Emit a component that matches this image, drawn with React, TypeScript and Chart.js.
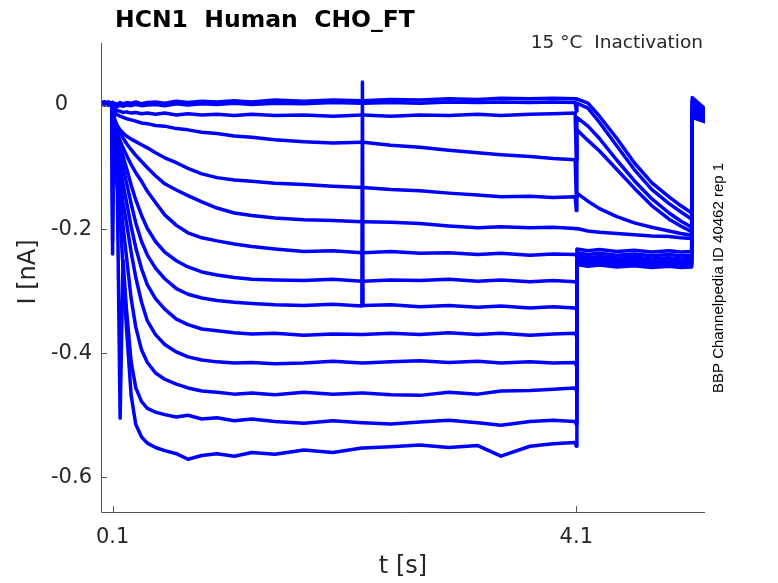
import { useEffect, useRef } from "react"
import Chart from "chart.js/auto"

// sample times [s], shared by all sweeps
const tGrid = [
    0, 0.03, 0.06, 0.095, 0.1, 0.105, 0.12, 0.14, 0.165, 0.19,
    0.22, 0.26, 0.3, 0.35, 0.4, 0.47, 0.55, 0.65, 0.75, 0.87,
    1.0, 1.15, 1.3, 1.5, 1.75, 2.0, 2.25, 2.255, 2.26, 2.5,
    2.75, 3.0, 3.25, 3.45, 3.7, 3.9, 4.09, 4.1, 4.105, 4.2,
    4.3, 4.45, 4.6, 4.75, 4.9, 5.0, 5.095, 5.1, 5.21,
]

// current [nA] per sweep
const sweep01 = [
    0.004, 0.002, 0.005, 0.003, 0.0, 0.002, 0.003, 0.001, 0.004, 0.002,
    0.004, 0.003, 0.005, 0.002, 0.004, 0.005, 0.003, 0.006, 0.004, 0.006,
    0.005, 0.007, 0.005, 0.008, 0.006, 0.008, 0.007, 0.007, 0.007, 0.009,
    0.008, 0.01, 0.009, 0.011, 0.01, 0.011, 0.01, 0.009, 0.01, 0.003,
    -0.018, -0.054, -0.093, -0.125, -0.148, -0.162, -0.174, 0.012, -0.006,
]
const sweep02 = [
    0.001, 0.004, 0.0, 0.002, -0.01, -0.002, -0.001, -0.003, 0.0, -0.002,
    0.0, -0.001, 0.001, -0.001, 0.0, 0.001, -0.001, 0.002, 0.0, 0.002,
    0.001, 0.003, 0.001, 0.003, 0.002, 0.004, 0.003, 0.003, 0.003, 0.004,
    0.003, 0.005, 0.004, 0.005, 0.004, 0.005, 0.004, -0.01, 0.003, -0.005,
    -0.028, -0.066, -0.104, -0.136, -0.159, -0.172, -0.184, 0.008, -0.01,
]
const sweep03 = [
    0.003, 0.0, 0.003, 0.001, -0.02, -0.006, -0.007, -0.009, -0.01, -0.012,
    -0.011, -0.013, -0.012, -0.014, -0.013, -0.015, -0.013, -0.016, -0.014, -0.016,
    -0.015, -0.017, -0.015, -0.017, -0.016, -0.018, -0.016, -0.016, -0.016, -0.018,
    -0.016, -0.017, -0.015, -0.017, -0.015, -0.014, -0.013, -0.09, -0.02, -0.034,
    -0.054, -0.089, -0.122, -0.151, -0.174, -0.187, -0.197, 0.005, -0.014,
]
const sweep04 = [
    0.002, 0.005, 0.001, 0.003, -0.03, -0.008, -0.012, -0.016, -0.018, -0.02,
    -0.022, -0.024, -0.026, -0.029, -0.03, -0.033, -0.034, -0.038, -0.04, -0.044,
    -0.046, -0.05, -0.052, -0.056, -0.059, -0.061, -0.06, -0.06, -0.06, -0.065,
    -0.068, -0.073, -0.077, -0.08, -0.083, -0.086, -0.088, -0.15, -0.04, -0.057,
    -0.074, -0.104, -0.134, -0.162, -0.184, -0.195, -0.204, -0.002, -0.018,
]
const sweep05 = [
    0.004, 0.001, 0.004, 0.002, -0.04, -0.012, -0.024, -0.033, -0.04, -0.045,
    -0.05, -0.055, -0.059, -0.064, -0.069, -0.077, -0.085, -0.093, -0.102, -0.111,
    -0.117, -0.121, -0.123, -0.126, -0.128, -0.131, -0.133, -0.133, -0.133, -0.136,
    -0.138, -0.142, -0.145, -0.148, -0.147, -0.149, -0.148, -0.17, -0.142, -0.155,
    -0.167, -0.18, -0.19, -0.197, -0.203, -0.207, -0.21, -0.006, -0.02,
]
const sweep06 = [
    0.003, 0.005, 0.002, 0.004, -0.05, -0.014, -0.026, -0.037, -0.045, -0.053,
    -0.062, -0.072, -0.081, -0.091, -0.101, -0.114, -0.127, -0.137, -0.146, -0.156,
    -0.166, -0.174, -0.178, -0.182, -0.185, -0.186, -0.188, -0.188, -0.188, -0.189,
    -0.191, -0.195, -0.198, -0.196, -0.198, -0.197, -0.199, -0.2, -0.199, -0.203,
    -0.205, -0.207, -0.209, -0.211, -0.212, -0.214, -0.215, -0.008, -0.021,
]
const sweep07 = [
    0.002, 0.0, 0.004, 0.002, -0.06, -0.016, -0.031, -0.045, -0.058, -0.069,
    -0.081, -0.096, -0.109, -0.123, -0.139, -0.157, -0.177, -0.194, -0.206, -0.214,
    -0.219, -0.224, -0.228, -0.232, -0.236, -0.235, -0.238, -0.238, -0.238, -0.236,
    -0.239, -0.238, -0.241, -0.239, -0.242, -0.24, -0.241, -0.243, -0.232, -0.235,
    -0.233, -0.236, -0.234, -0.237, -0.235, -0.237, -0.236, -0.01, -0.022,
]
const sweep08 = [
    0.004, 0.002, 0.0, 0.003, -0.08, -0.018, -0.034, -0.05, -0.067, -0.083,
    -0.102, -0.129, -0.153, -0.178, -0.199, -0.22, -0.237, -0.251, -0.261, -0.269,
    -0.274, -0.278, -0.281, -0.282, -0.283, -0.281, -0.284, -0.284, -0.284, -0.282,
    -0.283, -0.281, -0.284, -0.282, -0.285, -0.283, -0.285, -0.287, -0.238, -0.241,
    -0.239, -0.242, -0.24, -0.243, -0.241, -0.243, -0.242, -0.012, -0.023,
]
const sweep09 = [
    0.001, 0.004, 0.002, 0.0, -0.1, -0.02, -0.038, -0.058, -0.08, -0.101,
    -0.125, -0.159, -0.19, -0.22, -0.242, -0.263, -0.28, -0.296, -0.305, -0.311,
    -0.315, -0.318, -0.32, -0.322, -0.323, -0.321, -0.324, 0.037, -0.323, -0.322,
    -0.325, -0.323, -0.326, -0.324, -0.327, -0.325, -0.327, -0.33, -0.243, -0.246,
    -0.244, -0.247, -0.245, -0.248, -0.246, -0.248, -0.247, -0.013, -0.024,
]
const sweep10 = [
    0.003, 0.001, 0.005, 0.002, -0.13, -0.022, -0.045, -0.07, -0.1, -0.127,
    -0.156, -0.196, -0.23, -0.264, -0.29, -0.312, -0.329, -0.345, -0.354, -0.361,
    -0.364, -0.367, -0.369, -0.368, -0.371, -0.369, -0.37, -0.37, -0.37, -0.368,
    -0.37, -0.367, -0.37, -0.368, -0.371, -0.369, -0.368, -0.372, -0.246, -0.249,
    -0.247, -0.25, -0.248, -0.251, -0.249, -0.251, -0.25, -0.014, -0.024,
]
const sweep11 = [
    0.005, 0.002, 0.003, 0.001, -0.16, -0.025, -0.055, -0.086, -0.122, -0.157,
    -0.19, -0.237, -0.278, -0.318, -0.348, -0.37, -0.386, -0.398, -0.406, -0.411,
    -0.414, -0.416, -0.415, -0.417, -0.416, -0.413, -0.416, -0.416, -0.416, -0.414,
    -0.412, -0.415, -0.413, -0.416, -0.414, -0.416, -0.415, -0.42, -0.249, -0.252,
    -0.25, -0.253, -0.251, -0.254, -0.252, -0.254, -0.253, -0.015, -0.025,
]
const sweep12 = [
    0.002, 0.005, 0.001, 0.004, -0.19, -0.03, -0.068, -0.106, -0.152, -0.195,
    -0.245, -0.312, -0.358, -0.395, -0.415, -0.432, -0.442, -0.45, -0.456, -0.461,
    -0.463, -0.466, -0.464, -0.467, -0.463, -0.466, -0.464, -0.464, -0.464, -0.467,
    -0.468, -0.463, -0.466, -0.461, -0.46, -0.458, -0.456, -0.46, -0.251, -0.254,
    -0.252, -0.255, -0.253, -0.256, -0.254, -0.256, -0.255, -0.016, -0.025,
]
const sweep13 = [
    0.004, 0.001, 0.003, 0.002, -0.22, -0.035, -0.08, -0.125, -0.505, -0.25,
    -0.33, -0.414, -0.456, -0.478, -0.489, -0.495, -0.499, -0.503, -0.5, -0.506,
    -0.504, -0.509, -0.506, -0.51, -0.513, -0.509, -0.512, -0.512, -0.512, -0.514,
    -0.511, -0.508, -0.512, -0.516, -0.51, -0.508, -0.51, -0.515, -0.254, -0.257,
    -0.255, -0.258, -0.256, -0.259, -0.257, -0.259, -0.258, -0.018, -0.026,
]
const sweep14 = [
    0.003, 0.005, 0.002, 0.003, -0.24, -0.04, -0.088, -0.132, -0.18, -0.262,
    -0.36, -0.468, -0.515, -0.535, -0.545, -0.552, -0.557, -0.562, -0.571, -0.565,
    -0.562, -0.566, -0.56, -0.563, -0.556, -0.56, -0.553, -0.553, -0.553, -0.551,
    -0.548, -0.552, -0.549, -0.566, -0.55, -0.546, -0.544, -0.55, -0.257, -0.26,
    -0.258, -0.261, -0.259, -0.262, -0.26, -0.262, -0.261, -0.02, -0.027,
]

const sweeps = [
    sweep01, sweep02, sweep03, sweep04, sweep05, sweep06, sweep07,
    sweep08, sweep09, sweep10, sweep11, sweep12, sweep13, sweep14,
]

const xTicks = [0.1, 4.1]
const xTickLabels = ["0.1", "4.1"]
const yTicks = [0, -0.2, -0.4, -0.6]
const yTickLabels = ["0", "-0.2", "-0.4", "-0.6"]

const TEXT = "#262626"
const FONT = "'DejaVu Sans', sans-serif"

// matlab-like box: axis lines, inward ticks, labels and annotations
const matlabAxes = {
    id: "matlabAxes",
    afterDraw(chart: any) {
        const { ctx, chartArea: a, scales } = chart
        const xs = scales.x
        const ys = scales.y
        ctx.save()

        ctx.strokeStyle = "#555555"
        ctx.lineWidth = 1
        ctx.beginPath()
        ctx.moveTo(a.left + 0.5, a.top)
        ctx.lineTo(a.left + 0.5, a.bottom + 0.5)
        ctx.lineTo(a.right, a.bottom + 0.5)
        yTicks.forEach((v) => {
            const y = Math.round(ys.getPixelForValue(v)) + 0.5
            ctx.moveTo(a.left, y)
            ctx.lineTo(a.left + 6, y)
        })
        xTicks.forEach((v) => {
            const x = Math.round(xs.getPixelForValue(v)) + 0.5
            ctx.moveTo(x, a.bottom)
            ctx.lineTo(x, a.bottom - 6)
        })
        ctx.stroke()

        ctx.fillStyle = TEXT
        ctx.font = `21px ${FONT}`
        ctx.textAlign = "right"
        ctx.textBaseline = "middle"
        yTicks.forEach((v, i) => {
            // matlab pads the integer label, so "0" sits further left
            const pad = yTickLabels[i].includes(".") ? 9 : 33
            ctx.fillText(yTickLabels[i], a.left - pad, ys.getPixelForValue(v))
        })
        ctx.textAlign = "center"
        ctx.textBaseline = "top"
        xTicks.forEach((v, i) => {
            ctx.fillText(xTickLabels[i], xs.getPixelForValue(v), a.bottom + 15)
        })

        ctx.font = `24px ${FONT}`
        ctx.textBaseline = "middle"
        ctx.fillText("t [s]", 403, 567)
        ctx.save()
        ctx.translate(29, 272)
        ctx.rotate(-Math.PI / 2)
        ctx.fillText("I [nA]", 0, 0)
        ctx.restore()

        ctx.font = `bold 23.5px ${FONT}`
        ctx.textAlign = "left"
        ctx.textBaseline = "alphabetic"
        ctx.fillStyle = "#000000"
        ctx.fillText("HCN1  Human  CHO_FT", 115, 27)

        ctx.font = `18.5px ${FONT}`
        ctx.textAlign = "right"
        ctx.fillStyle = TEXT
        ctx.fillText("15 °C  Inactivation", 703, 48)

        ctx.save()
        ctx.translate(723, 393)
        ctx.rotate(-Math.PI / 2)
        ctx.font = "15px 'Liberation Sans', Arial, sans-serif"
        ctx.textAlign = "left"
        ctx.fillStyle = "#000000"
        ctx.fillText("BBP Channelpedia ID 40462 rep 1", 0, 0)
        ctx.restore()

        ctx.restore()
    },
}

function App() {
    const chartRef = useRef<HTMLCanvasElement>(null)
    const chartInstance = useRef<Chart | null>(null)

    useEffect(() => {
        if (!chartRef.current) return
        if (chartInstance.current) chartInstance.current.destroy()

        chartInstance.current = new Chart(chartRef.current, {
            type: "line",
            data: {
                datasets: sweeps.map((s, k) => ({
                    label: "sweep " + (k + 1),
                    data: tGrid.map((t, i) => ({ x: t, y: s[i] })),
                    borderColor: "#0000ff",
                    borderWidth: 3.5,
                    borderJoinStyle: "round" as const,
                    borderCapStyle: "round" as const,
                    pointRadius: 0,
                    tension: 0,
                    fill: false,
                })),
            },
            options: {
                animation: false,
                responsive: true,
                maintainAspectRatio: false,
                layout: { padding: { top: 43, right: 73, left: 0, bottom: 0 } },
                plugins: { legend: { display: false }, tooltip: { enabled: false } },
                scales: {
                    x: {
                        type: "linear",
                        min: 0,
                        max: 5.21,
                        grid: { display: false, drawTicks: false },
                        border: { display: false },
                        ticks: { display: false },
                        afterFit: (scale: any) => {
                            scale.height = 71
                        },
                    },
                    y: {
                        min: -0.656,
                        max: 0.1,
                        grid: { display: false, drawTicks: false },
                        border: { display: false },
                        ticks: { display: false },
                        afterFit: (scale: any) => {
                            scale.width = 101
                        },
                    },
                },
            },
            plugins: [matlabAxes],
        })

        return () => {
            chartInstance.current?.destroy()
        }
    }, [])

    return (
        <div style={{ position: "absolute", left: 0, top: 0, width: 778, height: 583, background: "#fff" }}>
            <canvas ref={chartRef}></canvas>
        </div>
    )
}

export default App
